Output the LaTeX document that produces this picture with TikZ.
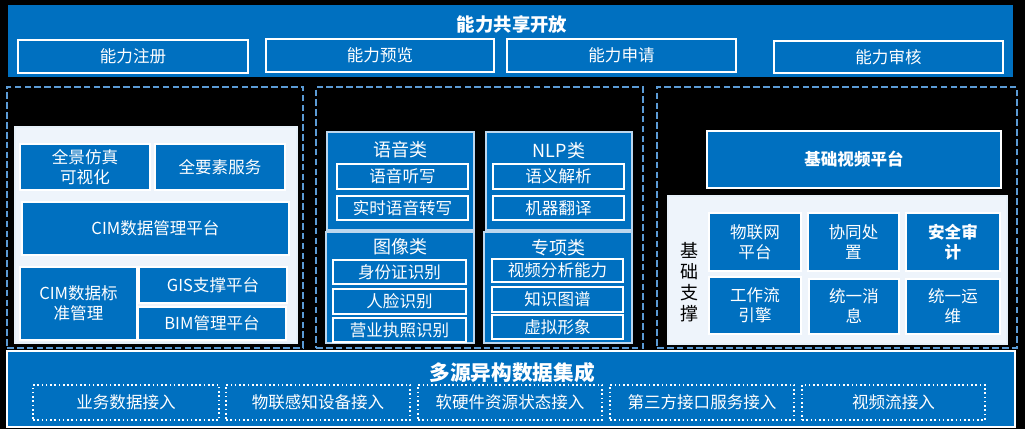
\documentclass[tikz,border=0pt]{standalone}
\usepackage{fontspec}
\setmainfont{Noto Sans CJK SC}
\usetikzlibrary{positioning}
\definecolor{mainblue}{HTML}{0070C0}
\definecolor{dashblue}{HTML}{5B9BD5}
\definecolor{panelbg}{HTML}{EEF4FB}
\definecolor{catline}{HTML}{BDD7EE}

\begin{document}
\begin{tikzpicture}[x=0.75pt, y=-0.75pt,
    sz/.style 2 args={minimum width=#1*0.75pt, minimum height=#2*0.75pt},
    bar/.style={fill=mainblue, inner sep=0pt},
    blk/.style={draw=white, line width=1.3pt, fill=mainblue, text=white, inner sep=0pt, align=center, font=\fontsize{12.4}{15}\selectfont},
    catbox/.style={draw=catline, line width=1.2pt, fill=mainblue, inner sep=0pt},
    cattitle/.style={text=white, font=\fontsize{13.5}{16}\selectfont},
    panel/.style={draw=dashblue, line width=1.1pt, dash pattern=on 5pt off 2.4pt, inner sep=0pt},
    lightbg/.style={draw=white!85!dashblue, line width=0.8pt, fill=panelbg, inner sep=0pt},
    dotbox/.style={draw=white, line width=1.2pt, dotted, text=white, inner sep=0pt, font=\fontsize{12.4}{15}\selectfont},
    heading/.style={text=white, font=\fontsize{13.8}{16}\selectfont\bfseries}
]
\fill[black] (0,0) rectangle (1025,429);
\useasboundingbox (0,0) rectangle (1025,429);

% ability sharing
\node[bar, sz={1005}{72}] (share) at (510.5,41) {};
\node[heading] (shareT) at (512,24) {能力共享开放};
\node[blk, sz={230}{33}] (reg) at (133,56.5) {能力注册};
\node[blk, sz={228}{33}] (prev) at (380,55.5) {能力预览};
\node[blk, sz={229}{33}] (apply) at (621.5,55.5) {能力申请};
\node[blk, sz={229}{32}] (audit) at (888.5,57) {能力审核};

% three dashed panels
\node[panel, sz={296}{261}] (left) at (155,217.5) {};
\node[panel, sz={327}{261}] (mid) at (479.5,217.5) {};
\node[panel, sz={360}{261}] (right) at (837,217.5) {};

% left: CIM
\node[lightbg, sz={282}{216}] (cimbg) at (156,235) {};
\node[blk, sz={130}{46}] (sim) at (85,167) {全景仿真\\可视化};
\node[blk, sz={130}{46}] (elem) at (220,167) {全要素服务};
\node[blk, sz={267}{53}] (cimmgr) at (155.5,228.5) {CIM数据管理平台};
\node[blk, sz={117}{73}] (cimstd) at (78.5,303.5) {CIM数据标\\准管理};
\node[blk, sz={148}{36}] (gis) at (213,285) {GIS支撑平台};
\node[blk, sz={148}{33}] (bim) at (212,323.5) {BIM管理平台};

% middle: AI abilities
\node[catbox, sz={147}{98}] (voice) at (400.5,181) {};
\node[cattitle] (voiceT) at (400.5,150) {语音类};
\node[blk, sz={131}{25}] (dict) at (402.5,176.5) {语音听写};
\node[blk, sz={131}{24}] (trans) at (402.5,208) {实时语音转写};
\node[catbox, sz={146}{98}] (nlp) at (559,181) {};
\node[cattitle] (nlpT) at (559,151) {NLP类};
\node[blk, sz={131}{25}] (parse) at (558.5,176.5) {语义解析};
\node[blk, sz={131}{24}] (mt) at (558.5,208) {机器翻译};
\node[catbox, sz={148}{111}] (image) at (400,287.5) {};
\node[cattitle] (imageT) at (400,247) {图像类};
\node[blk, sz={133}{24}] (idcard) at (399.5,272) {身份证识别};
\node[blk, sz={133}{25}] (face) at (399.5,301.5) {人脸识别};
\node[blk, sz={133}{24}] (license) at (399.5,330) {营业执照识别};
\node[catbox, sz={148}{111}] (special) at (558,287.5) {};
\node[cattitle] (specialT) at (558,248) {专项类};
\node[blk, sz={131}{23}] (video) at (557.5,270.5) {视频分析能力};
\node[blk, sz={131}{25}] (kg) at (557.5,299.5) {知识图谱};
\node[blk, sz={131}{24}] (avatar) at (557.5,327) {虚拟形象};

% right: video platform and base support
\node[blk, line width=1.6pt, sz={294}{57}, font=\fontsize{12.4}{15}\selectfont\bfseries] (vplat) at (854,159.5) {基础视频平台};
\node[lightbg, sz={339}{148}] (basebg) at (837.5,270) {};
\node[align=center, font=\fontsize{13.5}{15.8}\selectfont] (baseT) at (689,282) {基\\础\\支\\撑};
\node[blk, sz={92}{58}] (iot) at (755,242) {物联网\\平台};
\node[blk, sz={91}{58}] (coop) at (853.5,242) {协同处\\置};
\node[blk, sz={94}{58}, font=\fontsize{12.4}{15}\selectfont\bfseries] (sec) at (953,242) {安全审\\计};
\node[blk, sz={92}{57}] (flow) at (755,305.5) {工作流\\引擎};
\node[blk, sz={90}{55}] (msg) at (854,306.5) {统一消\\息};
\node[blk, sz={94}{55}] (ops) at (953,306.5) {统一运\\维};

% data integration
\node[bar, draw=white, line width=1.8pt, sz={1008}{76}] (integ) at (511,389) {};
\node[heading, font=\fontsize{15.5}{18}\selectfont\bfseries] (integT) at (512,373) {多源异构数据集成};
\node[dotbox, sz={186}{35}] (biz) at (126,402.5) {业务数据接入};
\node[dotbox, sz={184}{35}] (sense) at (318,402.5) {物联感知设备接入};
\node[dotbox, sz={184}{35}] (res) at (510,402.5) {软硬件资源状态接入};
\node[dotbox, sz={184}{35}] (third) at (702,402.5) {第三方接口服务接入};
\node[dotbox, sz={183}{35}] (stream) at (893.5,402.5) {视频流接入};
\end{tikzpicture}
\end{document}
